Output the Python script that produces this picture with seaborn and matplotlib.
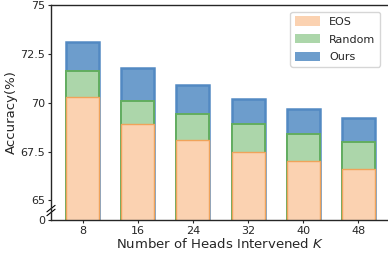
import pandas as pd
import numpy as np
import seaborn as sns
import matplotlib.pyplot as plt
from matplotlib.patches import Patch

heads = ["8", "16", "24", "32", "40", "48"]
eos = [70.3, 68.9, 68.1, 67.5, 67.0, 66.6]
random_heads = [71.6, 70.1, 69.4, 68.9, 68.4, 68.0]
ours = [73.1, 71.8, 70.9, 70.2, 69.7, 69.2]

ytick_vals = [64, 65, 67.5, 70, 72.5, 75]
ytick_labels = ["0", "65", "67.5", "70", "72.5", "75"]

df = pd.DataFrame({"K": heads, "EOS": eos, "Random": random_heads, "Ours": ours})

sns.set_style("ticks")
plt.rcParams['font.family'] = ['DejaVu Sans']

fig = plt.figure(figsize=(3.88, 2.56), dpi=100)
ax = fig.add_axes([51 / 388, 1 - 220 / 256, 339 / 388, 215 / 256])

# back to front: Ours, Random, EOS (wider edge behind so all edges show)
series = [
    ("Ours", "#6d9dcc", "#5289c2", 1.8),
    ("Random", "#acd6aa", "#62ad5f", 1.4),
    ("EOS", "#fbd2b1", "#f0a35a", 1.0),
]
for name, fill, edge, lw in series:
    sns.barplot(data=df, x="K", y=name, order=heads, color=fill, width=0.6,
                edgecolor=edge, linewidth=lw, saturation=1, ax=ax)

ax.set_ylim(64, 75)
ax.set_xlim(-0.58, 5.58)
ax.set_yticks(ytick_vals)
ax.set_yticklabels(ytick_labels)
ax.tick_params(axis="both", labelsize=8, length=2.5, width=0.8, pad=1.5)
ax.spines["right"].set_visible(False)
for s in ["left", "top", "bottom"]:
    ax.spines[s].set_linewidth(1.0)

ax.set_xlabel("Number of Heads Intervened $K$", fontsize=9.5, labelpad=1)
ax.set_ylabel("Accuracy(%)", fontsize=9.5, labelpad=2)

# axis break marks
for dy in (0.0, 0.018):
    ax.plot([-0.012, 0.012], [0.02 + dy, 0.05 + dy], transform=ax.transAxes,
            color="k", lw=0.8, clip_on=False)

handles = [Patch(facecolor=c, edgecolor="none") for _, c, _, _ in reversed(series)]
labels = [n for n, _, _, _ in reversed(series)]
ax.legend(handles, labels, loc="upper right", bbox_to_anchor=(380 / 388, 1 - 12 / 256),
          bbox_transform=fig.transFigure, borderaxespad=0, fontsize=8,
          handlelength=2.3, handleheight=0.9, labelspacing=0.65, frameon=True)

fig.savefig("out.png", dpi=100)
